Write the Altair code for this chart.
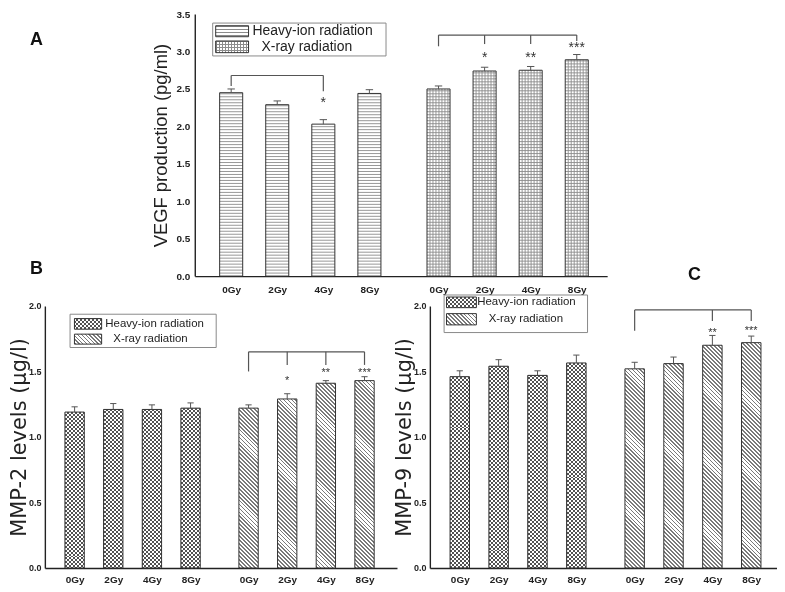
import math
import altair as alt
import pandas as pd

# ---------------- data ----------------
doses = ["0Gy", "2Gy", "4Gy", "8Gy"]
groups = ["Heavy-ion radiation", "X-ray radiation"]
heavy_pos = [0, 1, 2, 3]
xray_pos = [4.5, 5.5, 6.5, 7.5]

# Panel A - VEGF production (pg/ml)
vegf_heavy = [2.45, 2.29, 2.03, 2.44]
vegf_heavy_err = [0.05, 0.05, 0.06, 0.05]
vegf_xray = [2.50, 2.74, 2.75, 2.89]
vegf_xray_err = [0.04, 0.05, 0.05, 0.07]

# Panel B - MMP-2 levels (ug/l)
mmp2_heavy = [1.19, 1.21, 1.21, 1.22]
mmp2_heavy_err = [0.04, 0.045, 0.035, 0.04]
mmp2_xray = [1.22, 1.29, 1.41, 1.43]
mmp2_xray_err = [0.025, 0.04, 0.02, 0.03]

# Panel C - MMP-9 levels (ug/l)
mmp9_heavy = [1.46, 1.54, 1.47, 1.565]
mmp9_heavy_err = [0.045, 0.05, 0.035, 0.06]
mmp9_xray = [1.52, 1.56, 1.70, 1.72]
mmp9_xray_err = [0.05, 0.05, 0.075, 0.05]

# significance brackets: (group, doses, drop levels, top level)
vegf_brackets = [
    (groups[0], ["0Gy", "4Gy"], [2.54, 2.47], 2.68),
    (groups[1], ["0Gy", "2Gy", "4Gy", "8Gy"], [3.07, 3.10, 3.10, 3.14], 3.22),
]
mmp2_brackets = [
    (groups[1], ["0Gy", "2Gy", "4Gy", "8Gy"], [1.50, 1.55, 1.55, 1.55], 1.65),
]
mmp9_brackets = [
    (groups[1], ["0Gy", "4Gy", "8Gy"], [1.81, 1.885, 1.885], 1.97),
]

# significance stars: (group, dose, level, text)
vegf_stars = [(groups[0], "4Gy", 2.36, "*"), (groups[1], "2Gy", 2.96, "*"),
              (groups[1], "4Gy", 2.96, "**"), (groups[1], "8Gy", 3.10, "***")]
mmp2_stars = [(groups[1], "2Gy", 1.45, "*"), (groups[1], "4Gy", 1.51, "**"),
              (groups[1], "8Gy", 1.51, "***")]
mmp9_stars = [(groups[1], "4Gy", 1.82, "**"), (groups[1], "8Gy", 1.83, "***")]

# ---------------- helpers ----------------
FONT = "Liberation Sans"
INK = "#222222"
pos_of = {}
for d, p in zip(doses, heavy_pos):
    pos_of[(groups[0], d)] = p
for d, p in zip(doses, xray_pos):
    pos_of[(groups[1], d)] = p

tick_pos = heavy_pos + xray_pos
label_js = "{" + ",".join(f"'{p}':'{d}'" for p, d in zip(tick_pos, doses + doses)) + "}[datum.value]"


def stripes(kind, w, h, spacing, color, duty):
    """Linear-gradient stripe pattern with a fixed pixel pitch (bbox-relative gradient)."""
    if kind == "h":
        L = h
        coords = dict(x1=0, y1=0, x2=0, y2=1)
    elif kind == "v":
        L = w
        coords = dict(x1=0, y1=0, x2=1, y2=0)
    else:  # "d": lines running top-left -> bottom-right at 45 deg on screen
        t = (w + h) / (w * w + h * h)
        coords = dict(x1=0, y1=1, x2=round(t * w, 5), y2=round(1 - t * h, 5))
        L = (w + h) / math.sqrt(2)
    clear = "rgba(255,255,255,0)"
    n = int(math.ceil(L / spacing))
    stops = []
    for i in range(n):
        a = min(1.0, i * spacing / L)
        b = min(1.0, (i + duty) * spacing / L)
        c = min(1.0, (i + 1) * spacing / L)
        stops += [
            {"offset": round(a, 6), "color": color},
            {"offset": round(b, 6), "color": color},
            {"offset": round(b, 6), "color": clear},
            {"offset": round(c, 6), "color": clear},
        ]
    return {"gradient": "linear", "stops": stops, **coords}


def style_props(st, w, h):
    kind, sp, col, duty, blend = st
    if kind == "fill":
        props = dict(fill=col)
    else:
        props = dict(fill=stripes(kind, w, h, sp, col, duty))
    if blend:
        props["blend"] = blend
    return props


def panel_df(heavy, heavy_err, xray, xray_err):
    rows = []
    for d, p, v, e in zip(doses, heavy_pos, heavy, heavy_err):
        rows.append(dict(group=groups[0], dose=d, pos=p, value=v, err=e))
    for d, p, v, e in zip(doses, xray_pos, xray, xray_err):
        rows.append(dict(group=groups[1], dose=d, pos=p, value=v, err=e))
    return pd.DataFrame(rows)


ONE = pd.DataFrame({"k": [0]})


def make_panel(cfg):
    W, H = cfg["W"], cfg["H"]
    sh = cfg.get("shift", 0)          # plot area starts this many px right of the view origin
    xdom, ydom = cfg["xdom"], cfg["ydom"]
    pxx = (W - sh) / (xdom[1] - xdom[0])
    pxy = H / (ydom[1] - ydom[0])
    xs = alt.Scale(domain=xdom, nice=False, zero=False, range=[sh, W])
    ys = alt.Scale(domain=ydom, nice=False, zero=True)
    df = cfg["df"]

    xaxis = alt.Axis(values=tick_pos, labelExpr=label_js, title=None, grid=False, ticks=False,
                     labelFont=FONT, labelFontWeight="bold", labelFontSize=cfg["xlab_fs"],
                     labelColor=INK, labelPadding=cfg["xlabpad"], domainColor=INK,
                     domainWidth=1.4, labelOverlap=False)
    yaxis = alt.Axis(values=cfg["yticks"], format=".1f", title=cfg["ytitle"], grid=False,
                     ticks=False, labelFont=FONT, labelFontWeight="bold",
                     labelFontSize=cfg["ylab_fs"], labelColor=INK, labelPadding=cfg["ylabpad"],
                     titleFont=cfg["title_font"], titleFontWeight="normal",
                     titleFontSize=cfg["title_fs"], titleColor=INK,
                     titlePadding=cfg["titlepad"], domainColor=INK, domainWidth=1.4,
                     offset=-sh)

    def X(f):
        return alt.X(f, scale=xs, axis=xaxis)

    def Y(f):
        return alt.Y(f, scale=ys, axis=yaxis)

    base = alt.Chart(df).transform_calculate(
        x0="datum.pos - 0.25", x1="datum.pos + 0.25",
        top="datum.value + datum.err",
        cl="datum.pos - 0.08", cr="datum.pos + 0.08")

    layers = []
    bar_w = 0.5 * pxx
    bar_enc = dict(x=X("x0:Q"), x2="x1:Q", y=Y("value:Q"), y2=alt.datum(0))
    for gi, g in enumerate(groups):
        gsub = base.transform_filter(alt.datum.group == g)
        layers.append(gsub.mark_bar(fill="white", strokeWidth=0).encode(**bar_enc))
        if cfg.get("rules"):
            # hatch drawn as thin rules at a fixed pixel pitch inside each bar
            for (kind, sp, col, duty, blend) in cfg["styles"][gi]:
                if kind == "h":
                    stp = sp / pxy
                    layers.append(gsub.transform_calculate(
                        ly=f"sequence({stp}, datum.value, {stp})").transform_flatten(["ly"])
                        .mark_rule(color=col, strokeWidth=0.9).encode(
                            x=X("x0:Q"), x2="x1:Q", y=Y("ly:Q")))
                elif kind == "v":
                    stp = sp / pxx
                    layers.append(gsub.transform_calculate(
                        lx=f"sequence(datum.x0 + {stp}, datum.x1 - 0.001, {stp})")
                        .transform_flatten(["lx"])
                        .mark_rule(color=col, strokeWidth=0.9).encode(
                            x=X("lx:Q"), y=Y("value:Q"), y2=alt.datum(0)))
        else:
            gdf = df[df.group == g]
            for d, v in zip(gdf["dose"], gdf["value"]):
                bsub = base.transform_filter((alt.datum.group == g) & (alt.datum.dose == d))
                for st in cfg["styles"][gi]:
                    layers.append(bsub.mark_bar(strokeWidth=0, **style_props(st, bar_w, v * pxy))
                                  .encode(**bar_enc))
        layers.append(gsub.mark_bar(fillOpacity=0, stroke="#333333", strokeWidth=1)
                      .encode(**bar_enc))

    # error bars
    layers.append(base.mark_rule(color="#555555", strokeWidth=1).encode(
        x=X("pos:Q"), y=Y("value:Q"), y2="top:Q"))
    layers.append(base.mark_rule(color="#555555", strokeWidth=1).encode(
        x=X("cl:Q"), x2="cr:Q", y=Y("top:Q")))

    # significance brackets
    for (g, ds, drops, top) in cfg["brackets"]:
        ps = [pos_of[(g, d)] for d in ds]
        vert = pd.DataFrame({"pos": ps, "drop": drops, "top": [top] * len(ps)})
        horiz = pd.DataFrame({"p0": [min(ps)], "p1": [max(ps)], "top": [top]})
        layers.append(alt.Chart(vert).mark_rule(color="#555555", strokeWidth=1.2).encode(
            x=X("pos:Q"), y=Y("drop:Q"), y2="top:Q"))
        layers.append(alt.Chart(horiz).mark_rule(color="#555555", strokeWidth=1.2).encode(
            x=X("p0:Q"), x2="p1:Q", y=Y("top:Q")))

    stdf = pd.DataFrame({"pos": [pos_of[(g, d)] for g, d, _, _ in cfg["stars"]],
                         "level": [lv for _, _, lv, _ in cfg["stars"]],
                         "t": [t for _, _, _, t in cfg["stars"]]})
    layers.append(alt.Chart(stdf).mark_text(font=FONT, fontSize=cfg["star_fs"], dy=cfg["star_dy"],
                                            color="#333333", baseline="middle").encode(
        x=X("pos:Q"), y=Y("level:Q"), text="t:N"))

    # legend (inside the plot, as in the figure)
    lg = cfg["legend"]
    bx = lg["box"]
    layers.append(alt.Chart(ONE).mark_rect(fill="white", stroke="#8a8a8a", strokeWidth=1).encode(
        x=alt.value(sh + bx[0]), x2=alt.value(sh + bx[1]), y=alt.value(bx[2]),
        y2=alt.value(bx[3])))
    for gi, g in enumerate(groups):
        sx0, sx1, sy0, sy1 = lg["sw"][gi]
        e = dict(x=alt.value(sh + sx0), x2=alt.value(sh + sx1), y=alt.value(sy0),
                 y2=alt.value(sy1))
        layers.append(alt.Chart(ONE).mark_rect(fill="white").encode(**e))
        for st in cfg["styles"][gi]:
            layers.append(alt.Chart(ONE).mark_rect(**style_props(st, sx1 - sx0, sy1 - sy0))
                          .encode(**e))
        layers.append(alt.Chart(ONE).mark_rect(fillOpacity=0, stroke="#333333", strokeWidth=1)
                      .encode(**e))
        tx, ty = lg["txt"][gi]
        layers.append(alt.Chart(ONE).mark_text(text=g, font=FONT, fontSize=lg["fs"], color=INK,
                                               align="left", baseline="middle").encode(
            x=alt.value(sh + tx), y=alt.value(ty)))

    for (txt, lx, ly) in cfg.get("panel_labels", []):
        layers.append(alt.Chart(ONE).mark_text(text=txt, font=FONT, fontSize=18,
                                               fontWeight="bold", color="#111111",
                                               align="center", baseline="middle").encode(
            x=alt.value(sh + lx), y=alt.value(ly)))

    return alt.layer(*layers).properties(width=W, height=H)


# (kind, pitch px, colour, duty, blend)
style_A_heavy = [("h", 3.0, "#8c8c8c", 0.4, None)]
style_A_xray = [("h", 3.0, "#8c8c8c", 0.38, None), ("v", 3.0, "#8c8c8c", 0.38, None)]
style_BC_heavy = [("h", 4.0, "#000000", 0.5, None), ("v", 4.0, "#ffffff", 0.5, "difference"),
                  ("fill", 0, "rgba(255,255,255,0.32)", 0, None)]
style_BC_xray = [("d", 2.8, "#7a7a7a", 0.45, None)]

A_SHIFT = 150.5

panel_A = make_panel(dict(
    df=panel_df(vegf_heavy, vegf_heavy_err, vegf_xray, vegf_xray_err),
    W=A_SHIFT + 414, H=263, shift=A_SHIFT, xdom=[-0.79, 8.16], ydom=[0, 3.5], rules=True,
    yticks=[0, 0.5, 1.0, 1.5, 2.0, 2.5, 3.0, 3.5],
    ytitle="VEGF  production (pg/ml)", title_font=FONT, title_fs=18.5, titlepad=5,
    xlab_fs=10, ylab_fs=10, xlabpad=8, ylabpad=5,
    styles=[style_A_heavy, style_A_xray],
    brackets=vegf_brackets, stars=vegf_stars, star_fs=14, star_dy=4,
    legend=dict(box=(18, 192, 9, 42), sw=[(21, 54, 11.7, 22.7), (21, 54, 27, 38.7)],
                txt=[(58, 17.2), (67, 32.8)], fs=14),
    panel_labels=[("A", -159, 26.5), ("B", -159, 255.5), ("C", 501.7, 262)],
))

panel_B = make_panel(dict(
    df=panel_df(mmp2_heavy, mmp2_heavy_err, mmp2_xray, mmp2_xray_err),
    W=353.5, H=263, xdom=[-0.77, 8.34], ydom=[0, 2],
    yticks=[0, 0.5, 1.0, 1.5, 2.0],
    ytitle="MMP-2 levels (μg/l)", title_font="DejaVu Sans", title_fs=21, titlepad=-1,
    xlab_fs=10, ylab_fs=9, xlabpad=7, ylabpad=4,
    styles=[style_BC_heavy, style_BC_xray],
    brackets=mmp2_brackets, stars=mmp2_stars, star_fs=11, star_dy=3,
    legend=dict(box=(25.3, 172, 8.3, 41.7), sw=[(29.7, 57, 12.7, 23.3), (29.7, 57, 28.3, 38.3)],
                txt=[(60.7, 18), (68.7, 33.3)], fs=11.5),
))

panel_C = make_panel(dict(
    df=panel_df(mmp9_heavy, mmp9_heavy_err, mmp9_xray, mmp9_xray_err),
    W=348, H=263, xdom=[-0.77, 8.15], ydom=[0, 2],
    yticks=[0, 0.5, 1.0, 1.5, 2.0],
    ytitle="MMP-9 levels (μg/l)", title_font="DejaVu Sans", title_fs=21, titlepad=-1,
    xlab_fs=10, ylab_fs=9, xlabpad=7, ylabpad=4,
    styles=[style_BC_heavy, style_BC_xray],
    brackets=mmp9_brackets, stars=mmp9_stars, star_fs=11, star_dy=3,
    legend=dict(box=(14.3, 158.3, -11, 26.7), sw=[(16.7, 46.7, -9, 1.7), (16.7, 46.7, 7.7, 19)],
                txt=[(47.5, -3.7), (59, 13.3)], fs=11.5),
))

bottom = alt.hconcat(panel_B, panel_C, spacing=32.5, bounds="flush")
chart = alt.vconcat(panel_A, bottom, spacing=0).properties(padding=0).configure_view(strokeWidth=0)

chart.save("out.html", embed_options={"renderer": "svg", "actions": False})
